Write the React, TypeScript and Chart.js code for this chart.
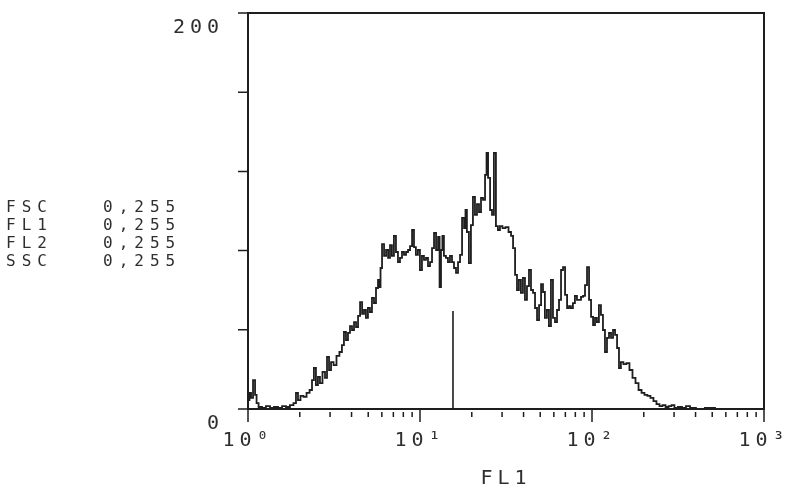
import React, { useEffect, useRef } from 'react';
import { Chart, registerables } from 'chart.js';

Chart.register(...registerables);

// FL1 channel (0..256 over 3 log decades) and event counts
const channels = [
  0.5, 1.0, 2.0, 3.0, 4.0, 4.5, 6.0, 7.9, 9.9, 11.9, 13.9, 15.9, 17.9, 19.8, 21.8, 23.3, 24.3, 25.3, 26.8, 28.3,
  29.8, 31.3, 32.2, 33.2, 34.2, 35.2, 36.2, 37.7, 38.7, 39.7, 40.7, 41.7, 43.2, 44.6, 46.1, 47.1, 48.1, 49.1, 50.1, 51.1,
  52.1, 53.1, 54.1, 55.1, 56.1, 57.1, 58.0, 59.0, 60.0, 61.0, 62.0, 63.0, 64.0, 65.0, 65.5, 66.0, 67.0, 68.0, 69.0, 70.0,
  70.9, 71.9, 72.9, 73.9, 74.9, 75.9, 76.9, 77.9, 78.9, 79.9, 80.9, 81.9, 82.8, 83.8, 84.8, 85.8, 86.8, 87.8, 88.8, 89.8,
  90.8, 91.8, 92.8, 93.8, 94.8, 95.3, 96.2, 96.7, 97.7, 98.7, 99.7, 100.7, 101.7, 102.7, 103.7, 104.7, 105.7, 106.7, 107.7, 108.1,
  109.1, 110.1, 111.1, 112.1, 113.1, 114.1, 115.1, 116.1, 117.1, 118.1, 118.6, 119.6, 120.6, 121.5, 122.5, 123.5, 124.5, 125.5, 127.0, 128.5,
  130.0, 131.0, 132.0, 133.0, 133.9, 134.9, 135.9, 136.9, 137.9, 138.9, 139.9, 140.9, 141.9, 142.9, 143.9, 144.9, 145.9, 146.8, 147.8, 148.8,
  149.8, 150.8, 151.8, 152.8, 153.8, 154.8, 155.8, 156.8, 157.8, 158.8, 159.7, 160.7, 161.7, 162.7, 163.7, 164.7, 165.7, 166.7, 167.7, 168.7,
  169.7, 170.7, 171.7, 172.6, 173.6, 174.6, 175.6, 176.6, 177.6, 178.6, 179.6, 180.6, 181.6, 182.6, 183.6, 184.5, 185.5, 187.0, 188.5, 190.0,
  191.5, 193.0, 194.5, 196.0, 197.4, 198.9, 200.4, 201.9, 203.4, 204.9, 206.4, 207.9, 209.4, 210.8, 212.3, 214.3, 216.3, 218.3, 220.3, 224.2,
  229.2, 234.2, 244.1, 256,
];
const counts = [
  4.5, 8.1, 5.6, 14.6, 7.1, 3.0, 1.0, 0.5, 1.5, 0.5, 1.0, 0.5, 1.5, 1.0, 2.0, 3.0, 8.1, 4.5, 6.6, 6.1,
  8.1, 9.6, 14.6, 20.7, 12.1, 16.2, 13.1, 18.7, 15.7, 26.3, 19.7, 23.7, 22.2, 26.8, 28.8, 32.3, 38.9, 34.8, 38.4, 41.9,
  39.9, 43.9, 41.4, 47.0, 54.0, 48.0, 50.0, 46.0, 51.0, 49.0, 56.1, 53.5, 61.1, 65.2, 61.6, 71.2, 83.3, 77.3, 80.3, 76.3,
  82.8, 77.3, 87.4, 79.3, 74.2, 76.3, 79.3, 77.8, 79.3, 80.3, 82.3, 90.4, 81.8, 77.8, 80.3, 70.2, 77.3, 75.3, 76.3, 72.2,
  74.2, 81.3, 88.9, 80.3, 86.9, 61.6, 80.3, 87.4, 77.3, 76.3, 74.2, 77.3, 74.2, 71.2, 68.7, 74.2, 77.8, 96.5, 91.4, 100.5,
  89.4, 73.7, 92.9, 107.1, 98.0, 103.5, 99.5, 106.6, 105.6, 118.2, 129.3, 116.7, 100.5, 98.0, 129.3, 92.4, 90.4, 92.4, 91.4, 91.9,
  89.4, 87.4, 81.3, 67.7, 60.1, 65.2, 58.6, 66.2, 55.1, 62.1, 70.2, 60.1, 58.6, 51.0, 44.9, 52.5, 63.1, 59.1, 46.0, 50.0,
  41.9, 65.2, 46.0, 43.9, 50.0, 55.1, 70.2, 71.7, 57.6, 51.0, 52.0, 51.0, 53.5, 57.1, 55.1, 55.1, 56.6, 57.1, 62.6, 71.7,
  55.1, 46.5, 42.4, 46.0, 43.9, 52.5, 47.5, 39.9, 28.8, 35.9, 38.4, 35.9, 39.9, 37.4, 30.8, 20.7, 23.7, 22.7, 23.2, 19.7,
  15.7, 13.1, 9.6, 8.1, 7.1, 6.6, 5.6, 4.0, 2.5, 1.5, 2.0, 1.0, 1.5, 2.0, 0.5, 1.0, 0.5, 1.5, 0.5, 0,
  0.5, 0, 0, 0,
];

// vertical cursor marker
const cursorChannels = [101.7, 101.7];
const cursorCounts = [0, 49.5];

const channelMax = 256;
const decades = 3;
const yMax = 200;
const xTickLabels = ['10⁰', '10¹', '10²', '10³'];
const yTickValues = [0, 40, 80, 120, 160, 200];
const yTickLabelMap: Record<number, string> = { 0: '0', 200: '200' };
const minorSteps = [2, 3, 4, 5, 6, 7, 8, 9];
const xTitle = 'FL1';

const paramNames = ['FSC', 'FL1', 'FL2', 'SSC'];
const paramRanges = ['0,255', '0,255', '0,255', '0,255'];

const INK = '#1e1e1e';
const TEXT = '#2e2e2e';
const FONT = "'DejaVu Sans Mono', 'Liberation Mono', monospace";

const framePlugin = {
  id: 'frame',
  beforeDraw(chart: any) {
    chart.ctx.letterSpacing = '5px';
  },
  afterDraw(chart: any) {
    const { ctx, chartArea: a, scales } = chart;
    const x = scales.x;
    const y = scales.y;
    ctx.save();
    ctx.strokeStyle = INK;
    ctx.lineWidth = 2;
    ctx.strokeRect(a.left, a.top, a.right - a.left, a.bottom - a.top);
    ctx.lineWidth = 1.5;
    ctx.beginPath();
    yTickValues.forEach((v) => {
      const py = y.getPixelForValue(v);
      ctx.moveTo(a.left - 10, py);
      ctx.lineTo(a.left, py);
    });
    for (let d = 0; d <= decades; d++) {
      const major = x.getPixelForValue((channelMax / decades) * d);
      ctx.moveTo(major, a.bottom);
      ctx.lineTo(major, a.bottom + 13);
      if (d === decades) break;
      minorSteps.forEach((k) => {
        const px = x.getPixelForValue((channelMax / decades) * (d + Math.log10(k)));
        ctx.moveTo(px, a.bottom + 3);
        ctx.lineTo(px, a.bottom + 8);
      });
    }
    ctx.stroke();
    ctx.restore();
    ctx.letterSpacing = '0px';
  },
};

export default function App() {
  const canvasRef = useRef<HTMLCanvasElement>(null);

  useEffect(() => {
    if (!canvasRef.current) return;
    Chart.defaults.font.family = FONT;
    const chart = new Chart(canvasRef.current, {
      type: 'line',
      data: {
        datasets: [
          {
            data: channels.map((c, i) => ({ x: c, y: counts[i] })),
            borderColor: INK,
            borderWidth: 1.8,
            pointRadius: 0,
            stepped: 'middle',
          },
          {
            data: cursorChannels.map((c, i) => ({ x: c, y: cursorCounts[i] })),
            borderColor: INK,
            borderWidth: 1.6,
            pointRadius: 0,
          },
        ],
      },
      options: {
        responsive: false,
        animation: false,
        layout: { padding: { top: 13, right: 24, left: 0, bottom: 0 } },
        plugins: { legend: { display: false }, tooltip: { enabled: false } },
        scales: {
          x: {
            type: 'linear',
            min: 0,
            max: channelMax,
            grid: { display: true, drawOnChartArea: false, drawTicks: true, tickLength: 20, color: 'rgba(0,0,0,0)' },
            border: { display: false },
            afterBuildTicks: (s: any) => {
              s.ticks = xTickLabels.map((_, i) => ({ value: (channelMax / decades) * i }));
            },
            afterFit: (s: any) => {
              s.height = 82;
            },
            ticks: {
              autoSkip: false,
              maxRotation: 0,
              padding: 0,
              color: TEXT,
              font: { size: 20 },
              callback: (_v: any, i: number) => xTickLabels[i],
            },
            title: {
              display: true,
              text: xTitle,
              color: TEXT,
              font: { size: 20 },
              padding: { top: 0, bottom: 0 },
            },
          },
          y: {
            type: 'linear',
            min: 0,
            max: yMax,
            grid: { display: true, drawOnChartArea: false, drawTicks: true, tickLength: 24, color: 'rgba(0,0,0,0)' },
            border: { display: false },
            afterBuildTicks: (s: any) => {
              s.ticks = yTickValues.map((v) => ({ value: v }));
            },
            afterFit: (s: any) => {
              s.width = 248;
            },
            ticks: {
              padding: 0,
              labelOffset: 15,
              color: TEXT,
              font: { size: 20 },
              callback: (v: any) => yTickLabelMap[v as number] ?? '',
            },
          },
        },
      },
      plugins: [framePlugin],
    });
    return () => chart.destroy();
  }, []);

  return (
    <div style={{ position: 'fixed', left: 0, top: 0, width: 788, height: 491, background: '#fff' }}>
      <canvas ref={canvasRef} width={788} height={491} style={{ position: 'absolute', left: 0, top: 0 }} />
      {paramNames.map((name, i) => (
        <div
          key={name}
          style={{
            position: 'absolute',
            top: 198 + i * 18,
            left: 6,
            height: 18,
            lineHeight: '18px',
            fontFamily: FONT,
            fontSize: 16,
            letterSpacing: 6,
            color: TEXT,
            whiteSpace: 'pre',
          }}
        >
          <span style={{ position: 'absolute', left: 0 }}>{name}</span>
          <span style={{ position: 'absolute', left: 97 }}>{paramRanges[i]}</span>
        </div>
      ))}
    </div>
  );
}
